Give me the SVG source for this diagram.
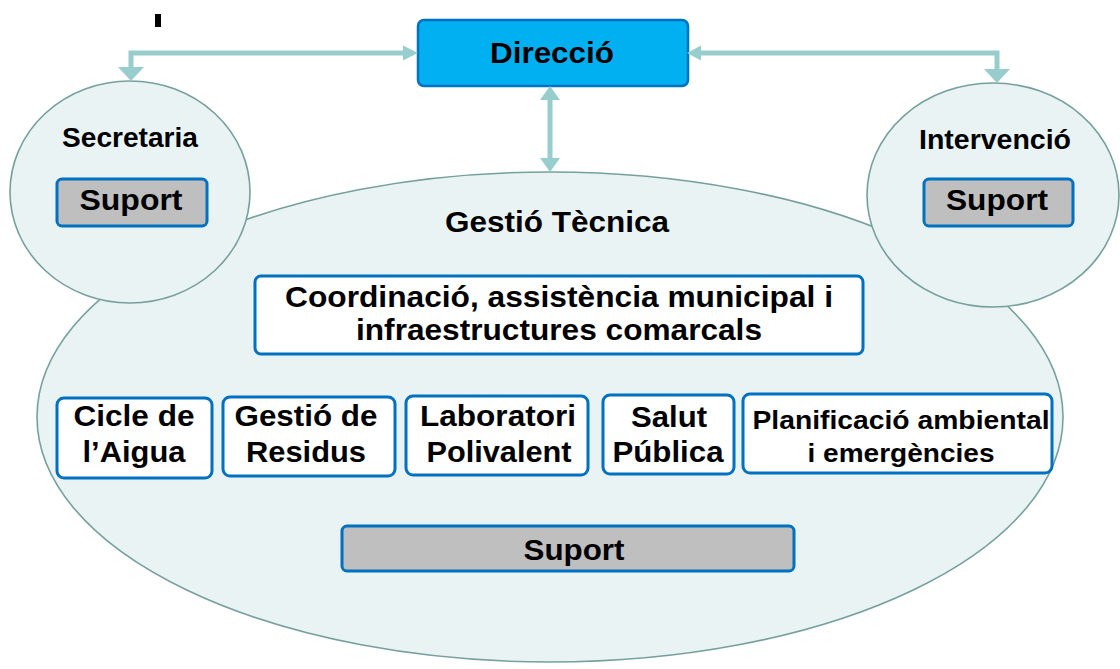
<svg xmlns="http://www.w3.org/2000/svg" width="1120" height="669" viewBox="0 0 1120 669">
<style>
  .t { font-family: "Liberation Sans", Arial, sans-serif; font-weight: bold; fill: #000; text-anchor: middle; }
  .area { fill: #E9F3F4; stroke: #76A09D; stroke-width: 1.6; }
  .box { fill: #FFFFFF; stroke: #0070C0; stroke-width: 3; }
  .sup { fill: #BFBFBF; stroke: #0070C0; stroke-width: 3; }
  .dir { fill: #00B0F0; stroke: #0070C0; stroke-width: 2.5; }
  .conn { fill: none; stroke: #97CDCC; stroke-width: 5; }
  .ah { fill: #97CDCC; stroke: none; }
</style>
<rect width="1120" height="669" fill="#FFFFFF"/>
<rect x="155" y="14" width="6" height="13" fill="#000"/>

<g id="gestio-tecnica">
  <ellipse class="area" cx="550" cy="417" rx="513" ry="245"/>
  <text class="t" x="557" y="232" font-size="29" textLength="224" lengthAdjust="spacingAndGlyphs">Gestió Tècnica</text>
</g>

<g id="secretaria">
  <ellipse class="area" cx="130" cy="192" rx="120" ry="111"/>
  <text class="t" x="130" y="147" font-size="27" textLength="136" lengthAdjust="spacingAndGlyphs">Secretaria</text>
</g>
<g id="secretaria-suport">
  <rect class="sup" x="57" y="179" width="150" height="47" rx="5"/>
  <text class="t" x="131" y="210" font-size="30" textLength="103" lengthAdjust="spacingAndGlyphs">Suport</text>
</g>

<g id="intervencio">
  <ellipse class="area" cx="993" cy="195" rx="126" ry="112"/>
  <text class="t" x="995" y="149" font-size="27" textLength="152" lengthAdjust="spacingAndGlyphs">Intervenció</text>
</g>
<g id="intervencio-suport">
  <rect class="sup" x="924" y="179" width="149" height="47" rx="5"/>
  <text class="t" x="997" y="210" font-size="30" textLength="102" lengthAdjust="spacingAndGlyphs">Suport</text>
</g>

<g id="direccio">
  <rect class="dir" x="418" y="20" width="270" height="66" rx="6"/>
  <text class="t" x="552" y="63" font-size="30" textLength="124" lengthAdjust="spacingAndGlyphs">Direcció</text>
</g>

<g id="coordinacio">
  <rect class="box" x="255" y="276" width="608" height="78" rx="6"/>
  <text class="t" x="559" y="307" font-size="30" textLength="548" lengthAdjust="spacingAndGlyphs">Coordinació, assistència municipal i</text>
  <text class="t" x="559" y="340" font-size="30" textLength="406" lengthAdjust="spacingAndGlyphs">infraestructures comarcals</text>
</g>

<g id="cicle-aigua">
  <rect class="box" x="57" y="398" width="155" height="80" rx="7"/>
  <text class="t" x="134" y="426" font-size="29" textLength="121" lengthAdjust="spacingAndGlyphs">Cicle de</text>
  <text class="t" x="134" y="462" font-size="29" textLength="103" lengthAdjust="spacingAndGlyphs">l’Aigua</text>
</g>

<g id="gestio-residus">
  <rect class="box" x="223" y="397" width="172" height="79" rx="7"/>
  <text class="t" x="306" y="426" font-size="29" textLength="143" lengthAdjust="spacingAndGlyphs">Gestió de</text>
  <text class="t" x="306" y="462" font-size="29" textLength="120" lengthAdjust="spacingAndGlyphs">Residus</text>
</g>

<g id="laboratori">
  <rect class="box" x="406" y="396" width="182" height="79" rx="7"/>
  <text class="t" x="498" y="426" font-size="29" textLength="156" lengthAdjust="spacingAndGlyphs">Laboratori</text>
  <text class="t" x="499" y="462" font-size="29" textLength="145" lengthAdjust="spacingAndGlyphs">Polivalent</text>
</g>

<g id="salut-publica">
  <rect class="box" x="603" y="395" width="131" height="79" rx="7"/>
  <text class="t" x="669" y="427" font-size="29" textLength="76" lengthAdjust="spacingAndGlyphs">Salut</text>
  <text class="t" x="668" y="462" font-size="29" textLength="111" lengthAdjust="spacingAndGlyphs">Pública</text>
</g>

<g id="planificacio">
  <rect class="box" x="743" y="394" width="309" height="79" rx="7"/>
  <text class="t" x="901" y="429" font-size="25" textLength="297" lengthAdjust="spacingAndGlyphs">Planificació ambiental</text>
  <text class="t" x="901" y="462" font-size="25" textLength="187" lengthAdjust="spacingAndGlyphs">i emergències</text>
</g>

<g id="gestio-suport">
  <rect class="sup" x="342" y="526" width="452" height="45" rx="5"/>
  <text class="t" x="574" y="560" font-size="30" textLength="101" lengthAdjust="spacingAndGlyphs">Suport</text>
</g>

<g id="connectors">
  <path class="conn" d="M404,53 H131 V68"/>
  <polygon class="ah" points="418,53 403,45.5 403,60.5"/>
  <polygon class="ah" points="131,81 118,67 144,67"/>
  <path class="conn" d="M701,53 H997 V70"/>
  <polygon class="ah" points="687,53 701,45.5 701,60.5"/>
  <polygon class="ah" points="997,83 984,69 1010,69"/>
  <path class="conn" d="M550,99 V159"/>
  <polygon class="ah" points="550,86 540,100 560,100"/>
  <polygon class="ah" points="550,172 540,158 560,158"/>
</g>
</svg>
